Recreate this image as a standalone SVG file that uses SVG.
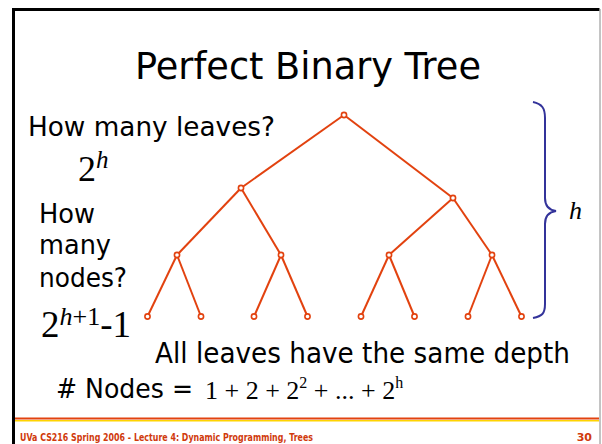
<svg xmlns="http://www.w3.org/2000/svg" width="602" height="444" viewBox="0 0 602 444">
<style>
.sans{font-family:"DejaVu Sans","Liberation Sans",sans-serif;fill:#000}
.serif{font-family:"Liberation Serif","Times New Roman",serif;fill:#000}
.edge{stroke:#E2420F;stroke-width:2;fill:none}
.nd{stroke:#E2420F;stroke-width:1.6;fill:#fff}
.foot{font-family:"DejaVu Sans","Liberation Sans",sans-serif;font-weight:bold;font-size:11px;fill:#D03A0C}
</style>
<rect x="0" y="0" width="602" height="444" fill="#fff"/>
<!-- frame -->
<path d="M13.5,444 V9.5 H599.5" stroke="#000" stroke-width="3" fill="none"/>
<path d="M600,9 V444" stroke="#888" stroke-width="1" fill="none"/>
<line x1="15" y1="418.5" x2="599" y2="418.5" stroke="#E2420F" stroke-width="2"/>
<line x1="15" y1="420.8" x2="599" y2="420.8" stroke="#FFD400" stroke-width="1.6"/>

<text x="308" y="79" text-anchor="middle" class="sans" font-size="37" textLength="346" lengthAdjust="spacingAndGlyphs">Perfect Binary Tree</text>
<text x="28" y="136" class="sans" font-size="27" textLength="247" lengthAdjust="spacingAndGlyphs">How many leaves?</text>
<text x="78" y="181" class="serif" font-size="36">2<tspan font-size="25" font-style="italic" dy="-13">h</tspan></text>
<text x="39" y="223" class="sans" font-size="26" textLength="56" lengthAdjust="spacingAndGlyphs">How</text>
<text x="39" y="254" class="sans" font-size="26" textLength="72" lengthAdjust="spacingAndGlyphs">many</text>
<text x="39" y="287" class="sans" font-size="26" textLength="88" lengthAdjust="spacingAndGlyphs">nodes?</text>
<text x="41" y="337" class="serif" font-size="37">2<tspan font-size="26" font-style="italic" dy="-12">h</tspan><tspan font-size="26">+1</tspan><tspan dy="12">-1</tspan></text>
<text x="155" y="363" class="sans" font-size="28" textLength="415" lengthAdjust="spacingAndGlyphs">All leaves have the same depth</text>
<text x="56" y="398" class="sans" font-size="27" textLength="137" lengthAdjust="spacingAndGlyphs"># Nodes =</text>
<text x="205" y="399" class="serif" font-size="26">1 + 2 + 2<tspan font-size="16" dy="-11">2</tspan><tspan dy="11"> + ... + 2</tspan><tspan font-size="16" dy="-11">h</tspan></text>
<text x="569" y="219" class="serif" font-size="26" font-style="italic">h</text>

<text x="20" y="441" class="foot" textLength="293" lengthAdjust="spacingAndGlyphs">UVa CS216 Spring 2006 - Lecture 4: Dynamic Programming, Trees</text>
<text x="592" y="441" class="foot" font-size="13" text-anchor="end">30</text>

<!-- brace -->
<path d="M533,102 C542,104 545,108 545,118 V198 C545,206 549,210 556,211 C549,212 545,216 545,224 V304 C545,314 542,316 533,318" stroke="#33339A" stroke-width="2" fill="none"/>

<g id="connectors">
<line class="edge" x1="344" y1="115" x2="241" y2="188"/>
<line class="edge" x1="344" y1="115" x2="453" y2="198"/>
<line class="edge" x1="241" y1="188" x2="177" y2="255"/>
<line class="edge" x1="241" y1="188" x2="281" y2="255"/>
<line class="edge" x1="453" y1="198" x2="389" y2="255"/>
<line class="edge" x1="453" y1="198" x2="492" y2="255"/>
<line class="edge" x1="177" y1="255" x2="147.5" y2="316.5"/>
<line class="edge" x1="177" y1="255" x2="201" y2="316.5"/>
<line class="edge" x1="281" y1="255" x2="254" y2="316.5"/>
<line class="edge" x1="281" y1="255" x2="307.5" y2="316.5"/>
<line class="edge" x1="389" y1="255" x2="361" y2="316.5"/>
<line class="edge" x1="389" y1="255" x2="414.5" y2="316.5"/>
<line class="edge" x1="492" y1="255" x2="468" y2="316.5"/>
<line class="edge" x1="492" y1="255" x2="521.5" y2="316.5"/>
</g>
<g id="n1"><circle class="nd" cx="344" cy="115" r="2.6"/></g>
<g id="n2"><circle class="nd" cx="241" cy="188" r="2.6"/></g>
<g id="n3"><circle class="nd" cx="453" cy="198" r="2.6"/></g>
<g id="n4"><circle class="nd" cx="177" cy="255" r="2.6"/></g>
<g id="n5"><circle class="nd" cx="281" cy="255" r="2.6"/></g>
<g id="n6"><circle class="nd" cx="389" cy="255" r="2.6"/></g>
<g id="n7"><circle class="nd" cx="492" cy="255" r="2.6"/></g>
<g id="n8"><circle class="nd" cx="147.5" cy="316.5" r="2.6"/></g>
<g id="n9"><circle class="nd" cx="201" cy="316.5" r="2.6"/></g>
<g id="n10"><circle class="nd" cx="254" cy="316.5" r="2.6"/></g>
<g id="n11"><circle class="nd" cx="307.5" cy="316.5" r="2.6"/></g>
<g id="n12"><circle class="nd" cx="361" cy="316.5" r="2.6"/></g>
<g id="n13"><circle class="nd" cx="414.5" cy="316.5" r="2.6"/></g>
<g id="n14"><circle class="nd" cx="468" cy="316.5" r="2.6"/></g>
<g id="n15"><circle class="nd" cx="521.5" cy="316.5" r="2.6"/></g>
</svg>
